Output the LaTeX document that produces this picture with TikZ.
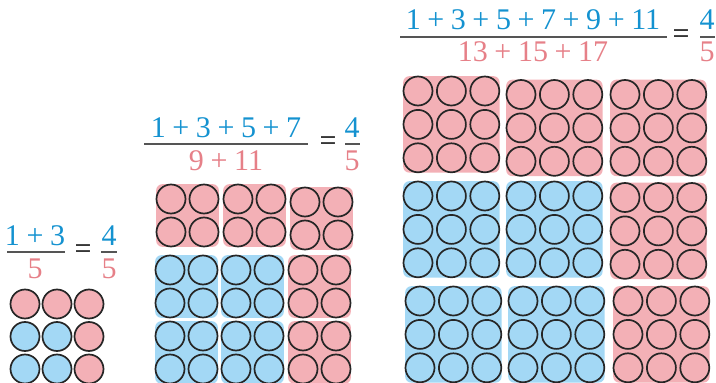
\documentclass[tikz,border=0pt]{standalone}
\usepackage{fontspec}
\setmainfont{Liberation Serif}
\definecolor{pk}{RGB}{243,176,182}
\definecolor{bl}{RGB}{163,216,245}
\definecolor{tbl}{RGB}{20,146,208}
\definecolor{tpk}{RGB}{230,128,136}
\definecolor{rule}{RGB}{85,85,85}
\newcommand\pls{\hspace{0.22em}+\hspace{0.22em}}
\tikzset{
  txt/.style={inner sep=0pt, font=\fontsize{30}{36}\selectfont},
  numr/.style={txt, text=tbl},
  denr/.style={txt, text=tpk},
  eqs/.style={txt, text=black},
  fracline/.style={draw=rule, line width=1.8pt},
  dot/.style={draw=black!85, line width=1.7pt},
}
% \blk{x0}{y0}{n}{spacing}{color}
\newcommand\blk[5]{%
  \pgfmathsetmacro\bw{(#3-1)*#4}%
  \fill[#5, rounded corners=6pt] (#1-14.8,#2-14.8) rectangle (#1+\bw+14.8,#2+\bw+14.8);
  \foreach \i in {1,...,#3}{\foreach \j in {1,...,#3}{%
    \draw[dot] (#1+\i*#4-#4,#2+\j*#4-#4) circle (14.5);}}%
}
\begin{document}
\begin{tikzpicture}[x=1pt,y=-1pt]
\useasboundingbox (0,0) rectangle (716,383);
% ---- group 1 ----
\node[numr] (n1) at (35,236) {1\pls 3};
\node[denr] (d1) at (35,269) {5};
\draw[fracline] (7,252) -- (65,252);
\node[eqs] (e1) at (83,252) {=};
\node[numr] (f1n) at (109,236) {4};
\node[denr] (f1d) at (109,269) {5};
\draw[fracline] (101,252) -- (117,252);
\foreach \c/\r/\col in {0/0/pk,1/0/pk,2/0/pk,0/1/bl,1/1/bl,2/1/pk,0/2/bl,1/2/bl,2/2/pk}{
  \draw[dot, fill=\col] (25+\c*32,304+\r*32.5) circle (14.5);
}
% ---- group 2 ----
\node[numr] (n2) at (226,128) {1\pls 3\pls 5\pls 7};
\node[denr] (d2) at (226,161) {9\pls 11};
\draw[fracline] (144,144) -- (308,144);
\node[eqs] (e2) at (328,144) {=};
\node[numr] (f2n) at (352,128) {4};
\node[denr] (f2d) at (352,161) {5};
\draw[fracline] (345,144) -- (360,144);
\blk{171}{199}{2}{33}{pk}
\blk{238}{199}{2}{33}{pk}
\blk{305}{202}{2}{33}{pk}
\blk{170}{270}{2}{33}{bl}
\blk{236}{270}{2}{33}{bl}
\blk{303}{270}{2}{33}{pk}
\blk{170}{336}{2}{33}{bl}
\blk{236}{336}{2}{33}{bl}
\blk{303}{336}{2}{33}{pk}
% ---- group 3 ----
\node[numr] (n3) at (533,20) {1\pls 3\pls 5\pls 7\pls 9\pls 11};
\node[denr] (d3) at (533,52) {13\pls 15\pls 17};
\draw[fracline] (400,37) -- (667,37);
\node[eqs] (e3) at (681,37) {=};
\node[numr] (f3n) at (707,20) {4};
\node[denr] (f3d) at (707,52) {5};
\draw[fracline] (700,37) -- (715,37);
\blk{418}{91}{3}{33.4}{pk}
\blk{521}{94.5}{3}{33.4}{pk}
\blk{625}{94.5}{3}{33.4}{pk}
\blk{418}{196}{3}{33.4}{bl}
\blk{521}{196}{3}{33.4}{bl}
\blk{625}{197.5}{3}{33.4}{pk}
\blk{420}{301}{3}{33.4}{bl}
\blk{523}{301}{3}{33.4}{bl}
\blk{628}{301}{3}{33.4}{pk}
\end{tikzpicture}
\end{document}
